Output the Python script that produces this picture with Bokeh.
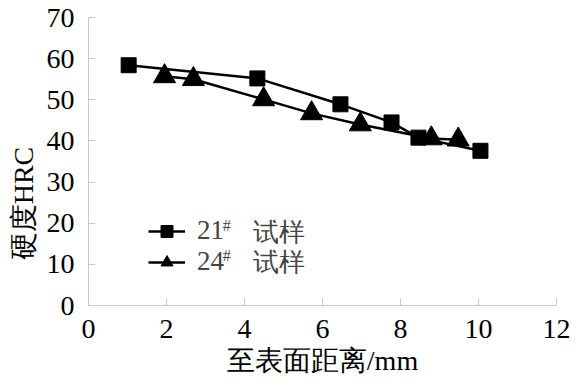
from bokeh.plotting import figure
from bokeh.models import Range1d, Legend, LegendItem, Label, FixedTicker
from bokeh.embed import file_html
from bokeh.resources import INLINE

# data
x21 = [1.03, 4.33, 6.46, 7.77, 8.46, 10.05]
y21 = [58.4, 55.2, 48.9, 44.5, 40.8, 37.6]
x24 = [1.95, 2.69, 4.49, 5.72, 6.97, 8.79, 9.48]
y24 = [55.7, 55.0, 50.1, 46.7, 44.0, 40.6, 40.3]
x_ticks = [0, 2, 4, 6, 8, 10, 12]
y_ticks = [0, 10, 20, 30, 40, 50, 60, 70]
series_names = ["21", "24"]
sample_word = "试样"

SERIF = "Liberation Serif"

p = figure(width=576, height=382, output_backend="svg", toolbar_location=None,
           x_range=Range1d(0, 12), y_range=Range1d(0, 70),
           min_border_left=88, min_border_right=20, min_border_top=17, min_border_bottom=77)
p.outline_line_color = None
p.xgrid.grid_line_color = None
p.ygrid.grid_line_color = None

for ax in (p.xaxis[0], p.yaxis[0]):
    ax.axis_line_color = "#c8c8c8"
    ax.major_tick_line_color = "#c8c8c8"
    ax.minor_tick_line_color = None
    ax.major_tick_in = 7
    ax.major_tick_out = 0
    ax.major_label_text_font = SERIF
    ax.major_label_text_font_size = "28px"
    ax.major_label_text_color = "black"
    ax.axis_label_text_font = SERIF
    ax.axis_label_text_font_size = "28px"
    ax.axis_label_text_font_style = "normal"
    ax.axis_label_text_color = "black"

p.xaxis.ticker = FixedTicker(ticks=x_ticks)
p.yaxis.ticker = FixedTicker(ticks=y_ticks)
p.xaxis.major_label_standoff = 14
p.yaxis.major_label_standoff = 14
p.xaxis.axis_label = "至表面距离/mm"
p.yaxis.axis_label = "硬度HRC" + "\u00a0" * 12
p.xaxis.axis_label_standoff = 4
p.yaxis.axis_label_standoff = 5

l1 = p.line(x21, y21, line_color="black", line_width=2.5)
m1 = p.scatter(x21, y21, marker="square", size=15, fill_color="black", line_color="black")
l2 = p.line(x24, y24, line_color="black", line_width=2.5)
m2 = p.scatter(x24, y24, marker="triangle", size=22, fill_color="black", line_color="black")

legend = Legend(items=[LegendItem(label=series_names[0], renderers=[l1, m1]),
                       LegendItem(label=series_names[1], renderers=[l2, m2])],
                location=(60, 28), margin=0, padding=0, spacing=0,
                glyph_width=37, glyph_height=30, label_standoff=12,
                label_text_font=SERIF, label_text_font_size="27px",
                border_line_alpha=0, background_fill_alpha=0)
p.add_layout(legend, "center")

# superscripts and sample word for legend
for yy_sup, yy_word in ((21.6, 17.7), (14.3, 10.4)):
    p.add_layout(Label(x=3.44, y=yy_sup, text="#", text_font=SERIF, text_font_size="16px",
                       text_baseline="top"))
    p.add_layout(Label(x=4.23, y=yy_word, text=sample_word, text_font=SERIF,
                       text_font_size="26px", text_baseline="middle"))

open("out.html", "w").write(file_html(p, INLINE))
